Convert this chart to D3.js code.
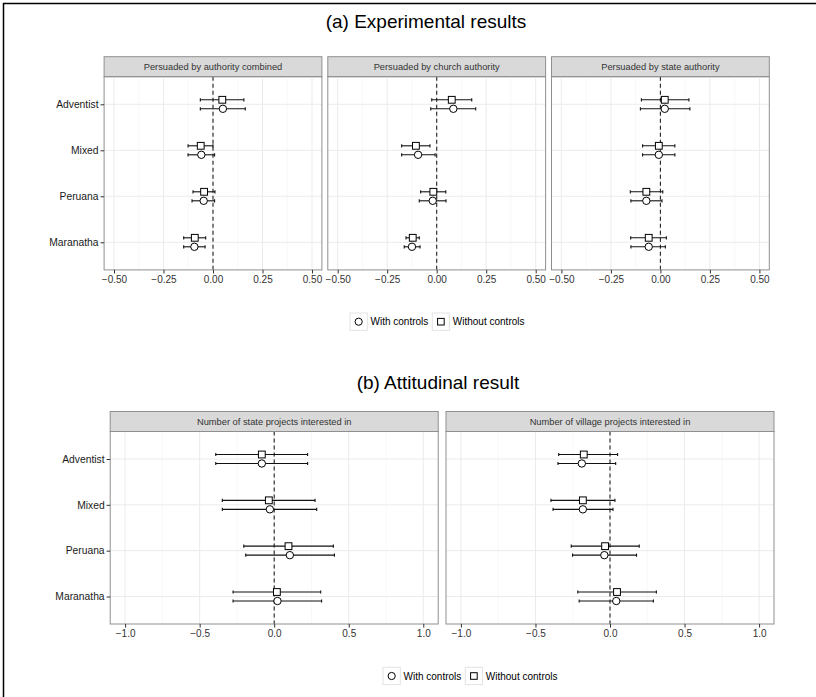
<!DOCTYPE html>
<html>
<head>
<meta charset="utf-8">
<script src="https://cdn.jsdelivr.net/npm/d3@7"></script>
<style>
  body { margin: 0; background: #fff; }
  svg { font-family: "Liberation Sans", Arial, sans-serif; }
</style>
</head>
<body>
<svg id="chart" width="816" height="697"></svg>
<script>
// groups shown on the y axis, top to bottom
const groups = ["Adventist", "Mixed", "Peruana", "Maranatha"];

// (a) experimental results: [estimate, low, high] per group
const panelsA = ["Persuaded by authority combined", "Persuaded by church authority", "Persuaded by state authority"];
const combinedWith    = [[0.050, -0.064, 0.163], [-0.059, -0.126, 0.008], [-0.047, -0.106, 0.008], [-0.094, -0.148, -0.040]];
const combinedWithout = [[0.047, -0.064, 0.156], [-0.062, -0.126, 0.000], [-0.045, -0.101, 0.010], [-0.092, -0.148, -0.037]];
const churchWith      = [[0.084, -0.030, 0.197], [-0.094, -0.177, -0.008], [-0.020, -0.088, 0.047], [-0.125, -0.164, -0.084]];
const churchWithout   = [[0.076, -0.025, 0.177], [-0.105, -0.177, -0.034], [-0.017, -0.081, 0.046], [-0.121, -0.155, -0.088]];
const stateWith       = [[0.022, -0.101, 0.149], [-0.008, -0.090, 0.073], [-0.071, -0.149, 0.008], [-0.059, -0.149, 0.025]];
const stateWithout    = [[0.022, -0.096, 0.144], [-0.008, -0.090, 0.073], [-0.071, -0.152, 0.012], [-0.059, -0.150, 0.030]];
const ticksA = [-0.5, -0.25, 0, 0.25, 0.5];

// (b) attitudinal result
const panelsB = ["Number of state projects interested in", "Number of village projects interested in"];
const stateProjWith      = [[-0.083, -0.392, 0.224], [-0.029, -0.348, 0.285], [0.105, -0.191, 0.404], [0.022, -0.276, 0.318]];
const stateProjWithout   = [[-0.083, -0.392, 0.224], [-0.036, -0.348, 0.274], [0.096, -0.204, 0.397], [0.018, -0.276, 0.312]];
const villageProjWith    = [[-0.189, -0.349, 0.038], [-0.182, -0.382, 0.020], [-0.038, -0.251, 0.178], [0.042, -0.207, 0.291]];
const villageProjWithout = [[-0.176, -0.344, 0.051], [-0.182, -0.396, 0.033], [-0.033, -0.260, 0.196], [0.047, -0.216, 0.311]];
const ticksB = [-1, -0.5, 0, 0.5, 1];

const svg = d3.select("#chart");

// frame (cropped on the right and bottom)
svg.append("rect").attr("x", 3.5).attr("y", 3.5).attr("width", 900).attr("height", 900)
  .attr("fill", "none").attr("stroke", "#000").attr("stroke-width", 1.5);

function drawRow(opt) {
  const { titles, withCtrl, withoutCtrl, ticks, limit, fmt, x0, w, gap, top, bottom, title, titleY, legendX, legendY } = opt;

  svg.append("text").attr("x", opt.titleX).attr("y", titleY)
    .attr("text-anchor", "middle").attr("font-size", 19).attr("fill", "#000")
    .text(title);

  const y = d3.scalePoint().domain(groups).range([top, bottom]).padding(0.6);

  titles.forEach((t, p) => {
    const left = x0 + p * (w + gap);
    const x = d3.scaleLinear().domain([-limit, limit]).range([left, left + w]);
    const g = svg.append("g");

    // strip
    g.append("rect").attr("x", left).attr("y", top - 20).attr("width", w).attr("height", 20)
      .attr("fill", "#d9d9d9").attr("stroke", "#8f8f8f").attr("stroke-width", 1);
    g.append("text").attr("x", left + w / 2).attr("y", top - 10).attr("dy", "0.35em")
      .attr("text-anchor", "middle").attr("font-size", 9.3).attr("fill", "#333").text(t);

    // minor gridlines
    const minor = d3.pairs(ticks).map(d => (d[0] + d[1]) / 2);
    g.selectAll(".minor").data(minor).join("line")
      .attr("x1", d => x(d)).attr("x2", d => x(d)).attr("y1", top).attr("y2", bottom)
      .attr("stroke", "#f4f4f4").attr("stroke-width", 0.6);
    // major gridlines
    g.selectAll(".majx").data(ticks).join("line")
      .attr("x1", d => x(d)).attr("x2", d => x(d)).attr("y1", top).attr("y2", bottom)
      .attr("stroke", "#ebebeb").attr("stroke-width", 1);
    g.selectAll(".majy").data(groups).join("line")
      .attr("x1", left).attr("x2", left + w).attr("y1", d => y(d)).attr("y2", d => y(d))
      .attr("stroke", "#ebebeb").attr("stroke-width", 1);

    // zero line
    g.append("line").attr("x1", x(0)).attr("x2", x(0)).attr("y1", top).attr("y2", bottom)
      .attr("stroke", "#222").attr("stroke-width", 1.1).attr("stroke-dasharray", "4,3");

    // series: square (without controls) above, circle (with controls) below
    const series = [
      { data: withoutCtrl[p], off: -4.5, shape: "square" },
      { data: withCtrl[p], off: 4.5, shape: "circle" }
    ];
    series.forEach(s => {
      const rows = s.data.map((d, i) => ({ g: groups[i], est: d[0], lo: d[1], hi: d[2] }));
      const yy = d => y(d.g) + s.off;
      g.selectAll(null).data(rows).join("line")
        .attr("x1", d => x(d.lo)).attr("x2", d => x(d.hi)).attr("y1", yy).attr("y2", yy)
        .attr("stroke", "#111").attr("stroke-width", 1.1);
      ["lo", "hi"].forEach(k => {
        g.selectAll(null).data(rows).join("line")
          .attr("x1", d => x(d[k])).attr("x2", d => x(d[k]))
          .attr("y1", d => yy(d) - 1.6).attr("y2", d => yy(d) + 1.6)
          .attr("stroke", "#111").attr("stroke-width", 1.1);
      });
      if (s.shape === "square") {
        g.selectAll(null).data(rows).join("rect")
          .attr("x", d => x(d.est) - 3.4).attr("y", d => yy(d) - 3.4)
          .attr("width", 6.8).attr("height", 6.8)
          .attr("fill", "#fff").attr("stroke", "#000").attr("stroke-width", 1);
      } else {
        g.selectAll(null).data(rows).join("circle")
          .attr("cx", d => x(d.est)).attr("cy", yy).attr("r", 3.7)
          .attr("fill", "#fff").attr("stroke", "#000").attr("stroke-width", 1);
      }
    });

    // panel border
    g.append("rect").attr("x", left).attr("y", top).attr("width", w).attr("height", bottom - top)
      .attr("fill", "none").attr("stroke", "#8f8f8f").attr("stroke-width", 1);

    // x axis
    const ax = g.append("g").attr("transform", `translate(0,${bottom})`)
      .call(d3.axisBottom(x).tickValues(ticks).tickFormat(d3.format(fmt)).tickSize(3.6).tickPadding(2));
    ax.select(".domain").remove();
    ax.selectAll("line").attr("stroke", "#333");
    ax.selectAll("text").attr("font-size", 10).attr("fill", "#333")
      .attr("font-family", "Liberation Sans, Arial, sans-serif");

    // y axis on the first panel
    if (p === 0) {
      const ay = g.append("g").attr("transform", `translate(${left},0)`)
        .call(d3.axisLeft(y).tickSize(3.6).tickPadding(2));
      ay.select(".domain").remove();
      ay.selectAll("line").attr("stroke", "#333");
      ay.selectAll("text").attr("font-size", 10.3).attr("fill", "#1a1a1a")
        .attr("font-family", "Liberation Sans, Arial, sans-serif");
    }
  });

  // legend
  const lg = svg.append("g").attr("transform", `translate(${legendX},${legendY})`);
  const items = [{ label: "With controls", shape: "circle" }, { label: "Without controls", shape: "square" }];
  let cx = 0;
  items.forEach(it => {
    lg.append("rect").attr("x", cx).attr("y", -8.7).attr("width", 17.3).attr("height", 17.3)
      .attr("fill", "#fff").attr("stroke", "#e3e3e3").attr("stroke-width", 1);
    if (it.shape === "circle") {
      lg.append("circle").attr("cx", cx + 8.65).attr("cy", 0).attr("r", 3.6)
        .attr("fill", "#fff").attr("stroke", "#000").attr("stroke-width", 1);
    } else {
      lg.append("rect").attr("x", cx + 5.3).attr("y", -3.3).attr("width", 6.6).attr("height", 6.6)
        .attr("fill", "#fff").attr("stroke", "#000").attr("stroke-width", 1);
    }
    const tx = lg.append("text").attr("x", cx + 20.5).attr("y", 0).attr("dy", "0.35em")
      .attr("font-size", 10).attr("fill", "#000").text(it.label);
    cx += 20.5 + tx.node().getComputedTextLength() + 4;
  });
}

drawRow({
  title: "(a) Experimental results", titleX: 426, titleY: 28,
  titles: panelsA,
  withCtrl: [combinedWith, churchWith, stateWith],
  withoutCtrl: [combinedWithout, churchWithout, stateWithout],
  ticks: ticksA, limit: 0.55, fmt: ".2f",
  x0: 104.1, w: 217.8, gap: 5.9, top: 76.7, bottom: 269.9,
  legendX: 350, legendY: 321.7
});

drawRow({
  title: "(b) Attitudinal result", titleX: 438, titleY: 389,
  titles: panelsB,
  withCtrl: [stateProjWith, villageProjWith],
  withoutCtrl: [stateProjWithout, villageProjWithout],
  ticks: ticksB, limit: 1.1, fmt: ".1f",
  x0: 110.2, w: 328, gap: 7.8, top: 431.5, bottom: 624,
  legendX: 383, legendY: 676
});
</script>
</body>
</html>
